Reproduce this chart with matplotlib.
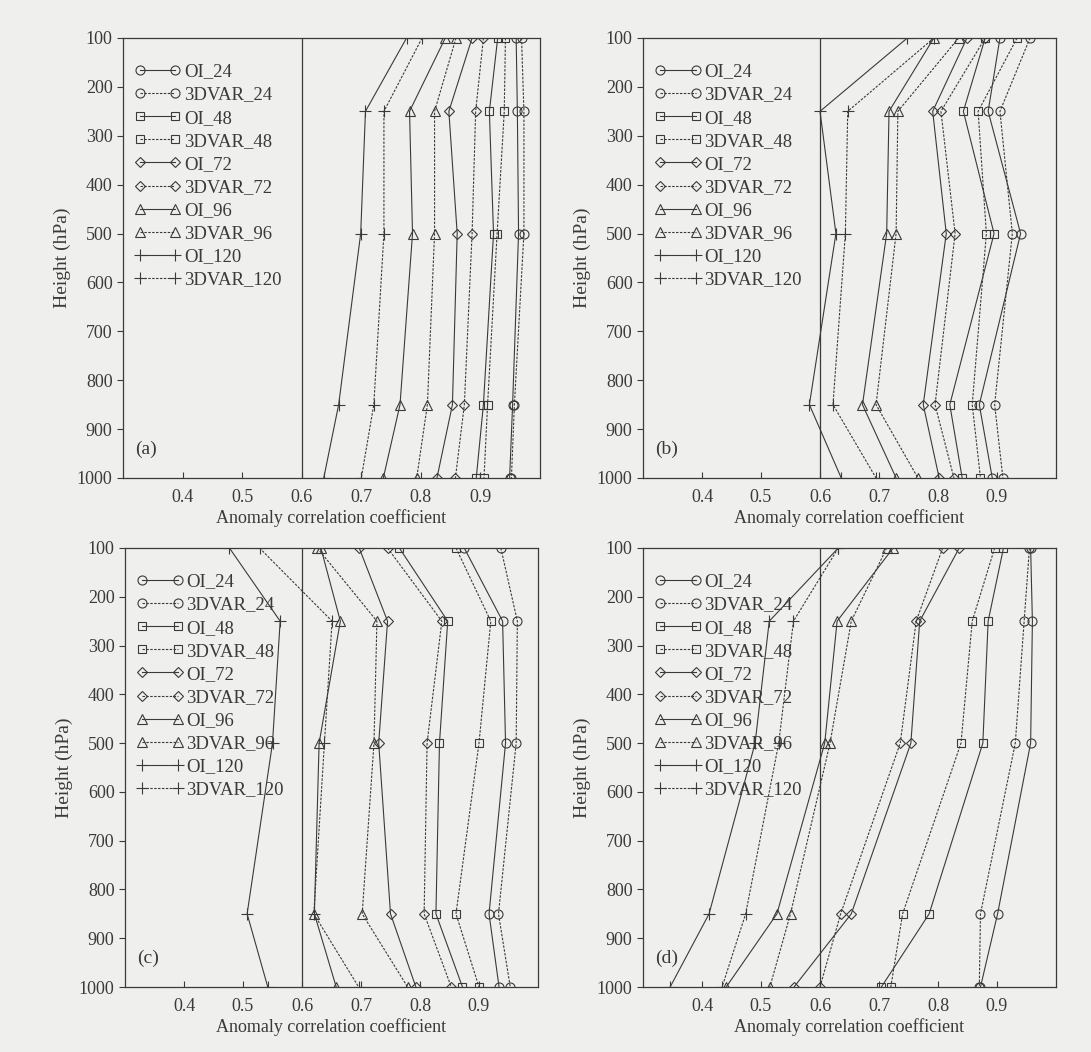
import matplotlib.pyplot as plt

plt.rcParams['font.family'] = ['Liberation Serif', 'DejaVu Serif']

levels = [100, 250, 500, 850, 1000]
leads = [24, 48, 72, 96, 120]
markers = ['o', 's', 'D', '^', '+']
xticks = [0.4, 0.5, 0.6, 0.7, 0.8, 0.9]
yticks = [100, 200, 300, 400, 500, 600, 700, 800, 900, 1000]

# anomaly correlation per lead time (24, 48, 72, 96, 120 h), levels 100..1000 hPa
a_oi = [[0.960, 0.962, 0.964, 0.954, 0.949],
        [0.929, 0.915, 0.922, 0.905, 0.893],
        [0.886, 0.847, 0.861, 0.853, 0.827],
        [0.841, 0.781, 0.786, 0.765, 0.737],
        [0.776, 0.707, 0.699, 0.662, 0.637]]
a_3dvar = [[0.969, 0.973, 0.973, 0.957, 0.952],
           [0.942, 0.940, 0.928, 0.912, 0.906],
           [0.905, 0.892, 0.886, 0.873, 0.858],
           [0.859, 0.823, 0.823, 0.811, 0.793],
           [0.802, 0.738, 0.738, 0.721, 0.700]]

b_oi = [[0.905, 0.885, 0.940, 0.870, 0.892],
        [0.880, 0.843, 0.895, 0.820, 0.841],
        [0.849, 0.791, 0.814, 0.775, 0.802],
        [0.793, 0.717, 0.713, 0.672, 0.729],
        [0.748, 0.600, 0.627, 0.582, 0.636]]
b_3dvar = [[0.956, 0.905, 0.926, 0.896, 0.910],
           [0.934, 0.868, 0.882, 0.858, 0.872],
           [0.880, 0.805, 0.829, 0.795, 0.827],
           [0.835, 0.732, 0.729, 0.695, 0.766],
           [0.793, 0.647, 0.643, 0.622, 0.695]]

c_oi = [[0.875, 0.940, 0.945, 0.917, 0.934],
        [0.765, 0.847, 0.833, 0.827, 0.872],
        [0.697, 0.745, 0.730, 0.750, 0.793],
        [0.632, 0.665, 0.629, 0.621, 0.658],
        [0.477, 0.563, 0.550, 0.507, 0.542]]
c_3dvar = [[0.937, 0.965, 0.963, 0.933, 0.953],
           [0.861, 0.920, 0.900, 0.861, 0.900],
           [0.745, 0.837, 0.812, 0.807, 0.853],
           [0.626, 0.727, 0.722, 0.702, 0.779],
           [0.528, 0.651, 0.638, 0.620, 0.696]]

d_oi = [[0.957, 0.960, 0.957, 0.901, 0.872],
        [0.911, 0.885, 0.876, 0.785, 0.704],
        [0.836, 0.769, 0.754, 0.653, 0.556],
        [0.724, 0.629, 0.608, 0.527, 0.441],
        [0.631, 0.514, 0.490, 0.412, 0.346]]
d_3dvar = [[0.955, 0.946, 0.931, 0.872, 0.870],
           [0.896, 0.858, 0.839, 0.740, 0.720],
           [0.808, 0.763, 0.736, 0.635, 0.600],
           [0.713, 0.653, 0.617, 0.550, 0.515],
           [0.631, 0.555, 0.530, 0.474, 0.434]]

panels = [('(a)', a_oi, a_3dvar), ('(b)', b_oi, b_3dvar),
          ('(c)', c_oi, c_3dvar), ('(d)', d_oi, d_3dvar)]

W, H = 1091, 1052
# axes boxes in pixels: left, top, right, bottom
boxes = [(123, 38, 540, 478), (643, 38, 1056, 478),
         (125, 548, 538, 987), (643, 548, 1056, 987)]

ink = '#3a3a3a'
bg = '#efefed'
dash = (0, (2.2, 1.3))
msize = {'o': 6.5, 's': 6, 'D': 5, '^': 7, '+': 9}

fig = plt.figure(figsize=(W / 100, H / 100), dpi=100, facecolor=bg)

for (tag, oi, var), (l, t, r, b) in zip(panels, boxes):
    ax = fig.add_axes([l / W, 1 - b / H, (r - l) / W, (b - t) / H])
    ax.set_facecolor(bg)
    ax.axvline(0.6, color=ink, lw=0.9)
    for i, lead in enumerate(leads):
        m = markers[i]
        ax.plot(oi[i], levels, ls='-', lw=0.8, color=ink, marker=m, ms=msize[m],
                mfc='none', mec=ink, mew=0.8, label='OI_%d' % lead)
        ax.plot(var[i], levels, ls=dash, lw=0.8, color=ink, marker=m, ms=msize[m],
                mfc='none', mec=ink, mew=0.8, label='3DVAR_%d' % lead)
    ax.set_xlim(0.3, 1.0)
    ax.set_ylim(1000, 100)
    ax.set_xticks(xticks)
    ax.set_yticks(yticks)
    ax.tick_params(axis='x', direction='in', length=4, labelsize=13, colors=ink, pad=8)
    ax.tick_params(axis='y', direction='out', length=4, labelsize=13, colors=ink)
    for s in ax.spines.values():
        s.set_color(ink)
        s.set_linewidth(0.9)
    ax.set_xlabel('Anomaly correlation coefficient', fontsize=13, color=ink, labelpad=2)
    ax.set_ylabel('Height (hPa)', fontsize=14, color=ink, labelpad=4)
    ax.text(0.03, 0.055, tag, transform=ax.transAxes, fontsize=14, color=ink)
    ax.legend(loc='upper left', bbox_to_anchor=(-0.018, 0.985), frameon=False,
              numpoints=2, handlelength=2.5, handletextpad=0.15,
              labelspacing=0.32, fontsize=13.5, borderaxespad=0.6,
              labelcolor=ink)

fig.savefig('out.png', dpi=100, facecolor=bg)
